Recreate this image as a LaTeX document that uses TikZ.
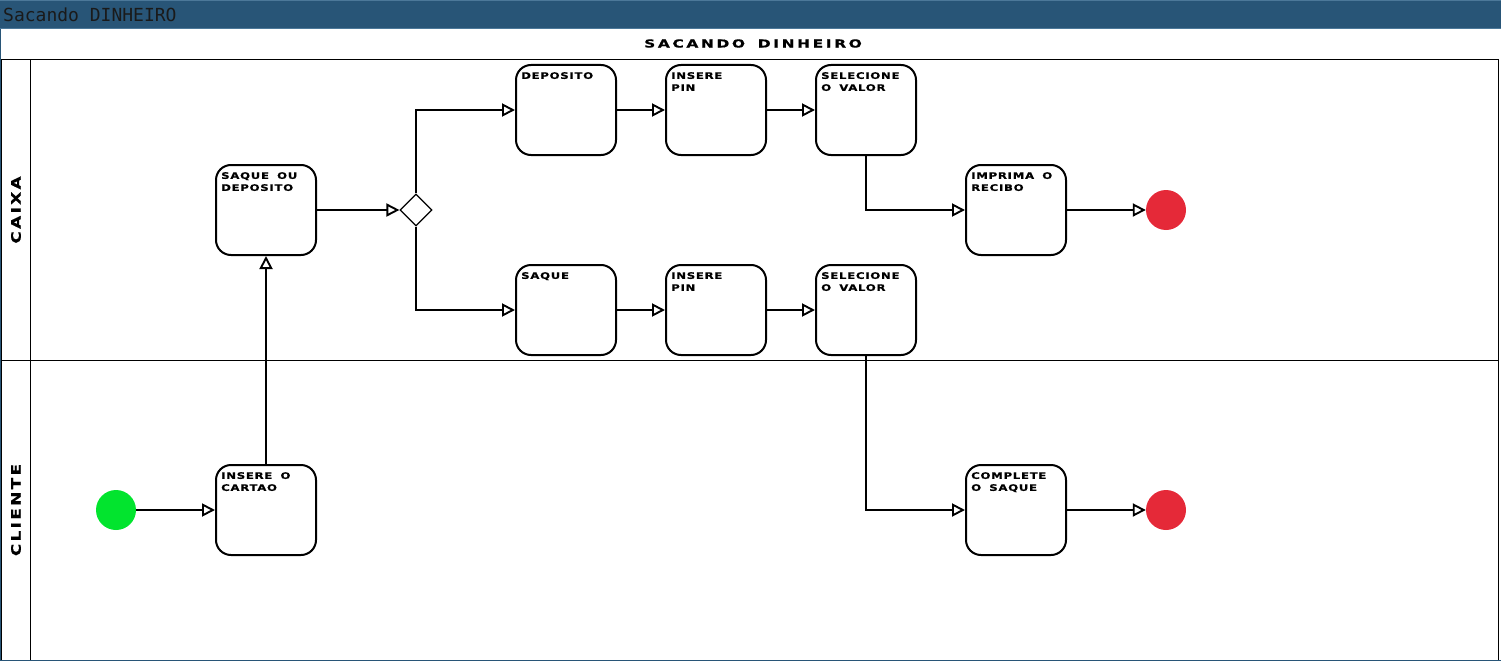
\documentclass[tikz,border=0pt]{standalone}
\usepackage{fontspec}
\setmainfont{DejaVu Sans}
\newfontfamily\barfont{DejaVu Sans Mono}
\newfontfamily\taskfont{DejaVu Sans Bold}[FakeStretch=1.3, FakeBold=0.7, LetterSpace=8, WordSpace=1.7]
\newfontfamily\titlefont{DejaVu Sans Bold}[FakeStretch=1.4, FakeBold=0.7, LetterSpace=24, WordSpace=1.6]
\newfontfamily\lanefont{DejaVu Sans Bold}[FakeStretch=1.3, FakeBold=0.7, LetterSpace=18]
\usetikzlibrary{positioning, shapes.geometric, arrows.meta, calc}
\definecolor{winblue}{HTML}{285577}
\definecolor{winedge}{HTML}{4C7899}
\definecolor{bartext}{HTML}{1A1A1A}
\definecolor{startgreen}{RGB}{2,228,46}
\definecolor{endred}{RGB}{229,41,56}
\tikzset{
    task/.style={draw, line width=2pt, rounded corners=15pt, minimum width=100pt, minimum height=90pt, inner sep=0pt},
    task text/.style={anchor=north west, inner sep=0pt, align=left, font=\taskfont\fontsize{9}{12}\selectfont},
    gateway/.style={diamond, draw, line width=1.2pt, fill=white, minimum size=32pt, inner sep=0pt},
    start event/.style={circle, fill=startgreen, minimum size=40pt, inner sep=0pt},
    end event/.style={circle, fill=endred, minimum size=40pt, inner sep=0pt},
    flow/.style={line width=1.9pt, -{Triangle[open, length=13pt, width=13pt]}},
    lane line/.style={line width=1pt},
    lane label/.style={rotate=90, font=\lanefont\fontsize{13}{13}\selectfont}
}

\begin{document}
\begin{tikzpicture}[x=1pt, y=-1pt]
    \useasboundingbox (0,0) rectangle (1501,661);

    % --- Window bar and pool ---
    \fill[winblue] (0,0) rectangle (1501,29);
    \draw[winedge, line width=1pt] (0,0.5) -- (1501,0.5);
    \draw[winedge, line width=1pt] (0,28.5) -- (1501,28.5);
    \node (bar) [anchor=west, inner sep=0pt, text=bartext, font=\barfont\fontsize{18}{18}\selectfont] at (3,15) {Sacando DINHEIRO};
    \node (pool) [font=\titlefont\fontsize{11}{11}\selectfont, inner sep=0pt] at (753,43.5) {SACANDO DINHEIRO};
    \draw[lane line] (1.5,60) rectangle (1498.5,660);
    \draw[lane line] (1.5,360) -- (1498.5,360);
    \draw[lane line] (30.5,60) -- (30.5,660);
    \fill[winblue] (0,29) rectangle (1,661);
    \fill[winblue] (0,659.5) rectangle (1501,661);
    \node (laneCaixa) [lane label] at (16,210) {CAIXA};
    \node (laneCliente) [lane label] at (16,510) {CLIENTE};

    % --- Events and gateway ---
    \node (start) [start event] at (116,510) {};
    \node (gw) [gateway] at (416,210) {};
    \node (endA) [end event] at (1166,210) {};
    \node (endB) [end event] at (1166,510) {};

    % --- Tasks ---
    \node (cartao) [task] at (266,510) {};
    \node[task text] at ([xshift=6pt, yshift=-8pt]cartao.north west) {INSERE O\\CARTAO};
    \node (saqueDep) [task] at (266,210) {};
    \node[task text] at ([xshift=6pt, yshift=-8pt]saqueDep.north west) {SAQUE OU\\DEPOSITO};
    \node (deposito) [task] at (566,110) {};
    \node[task text] at ([xshift=6pt, yshift=-8pt]deposito.north west) {DEPOSITO};
    \node (pinA) [task, right=48pt of deposito] {};
    \node[task text] at ([xshift=6pt, yshift=-8pt]pinA.north west) {INSERE\\PIN};
    \node (valorA) [task, right=48pt of pinA] {};
    \node[task text] at ([xshift=6pt, yshift=-8pt]valorA.north west) {SELECIONE\\O VALOR};
    \node (saque) [task] at (566,310) {};
    \node[task text] at ([xshift=6pt, yshift=-8pt]saque.north west) {SAQUE};
    \node (pinB) [task, right=48pt of saque] {};
    \node[task text] at ([xshift=6pt, yshift=-8pt]pinB.north west) {INSERE\\PIN};
    \node (valorB) [task, right=48pt of pinB] {};
    \node[task text] at ([xshift=6pt, yshift=-8pt]valorB.north west) {SELECIONE\\O VALOR};
    \node (imprima) [task] at (1016,210) {};
    \node[task text] at ([xshift=6pt, yshift=-8pt]imprima.north west) {IMPRIMA O\\RECIBO};
    \node (complete) [task] at (1016,510) {};
    \node[task text] at ([xshift=6pt, yshift=-8pt]complete.north west) {COMPLETE\\O SAQUE};

    % --- Sequence flows ---
    \draw[flow] (start) -- (cartao);
    \draw[flow] (cartao) -- (saqueDep);
    \draw[flow] (saqueDep) -- (gw);
    \draw[flow] (gw.north) |- (deposito);
    \draw[flow] (gw.south) |- (saque);
    \draw[flow] (deposito) -- (pinA);
    \draw[flow] (pinA) -- (valorA);
    \draw[flow] (saque) -- (pinB);
    \draw[flow] (pinB) -- (valorB);
    \draw[flow] (valorA.south) |- (imprima);
    \draw[flow] (valorB.south) |- (complete);
    \draw[flow] (imprima) -- (endA);
    \draw[flow] (complete) -- (endB);
\end{tikzpicture}
\end{document}
